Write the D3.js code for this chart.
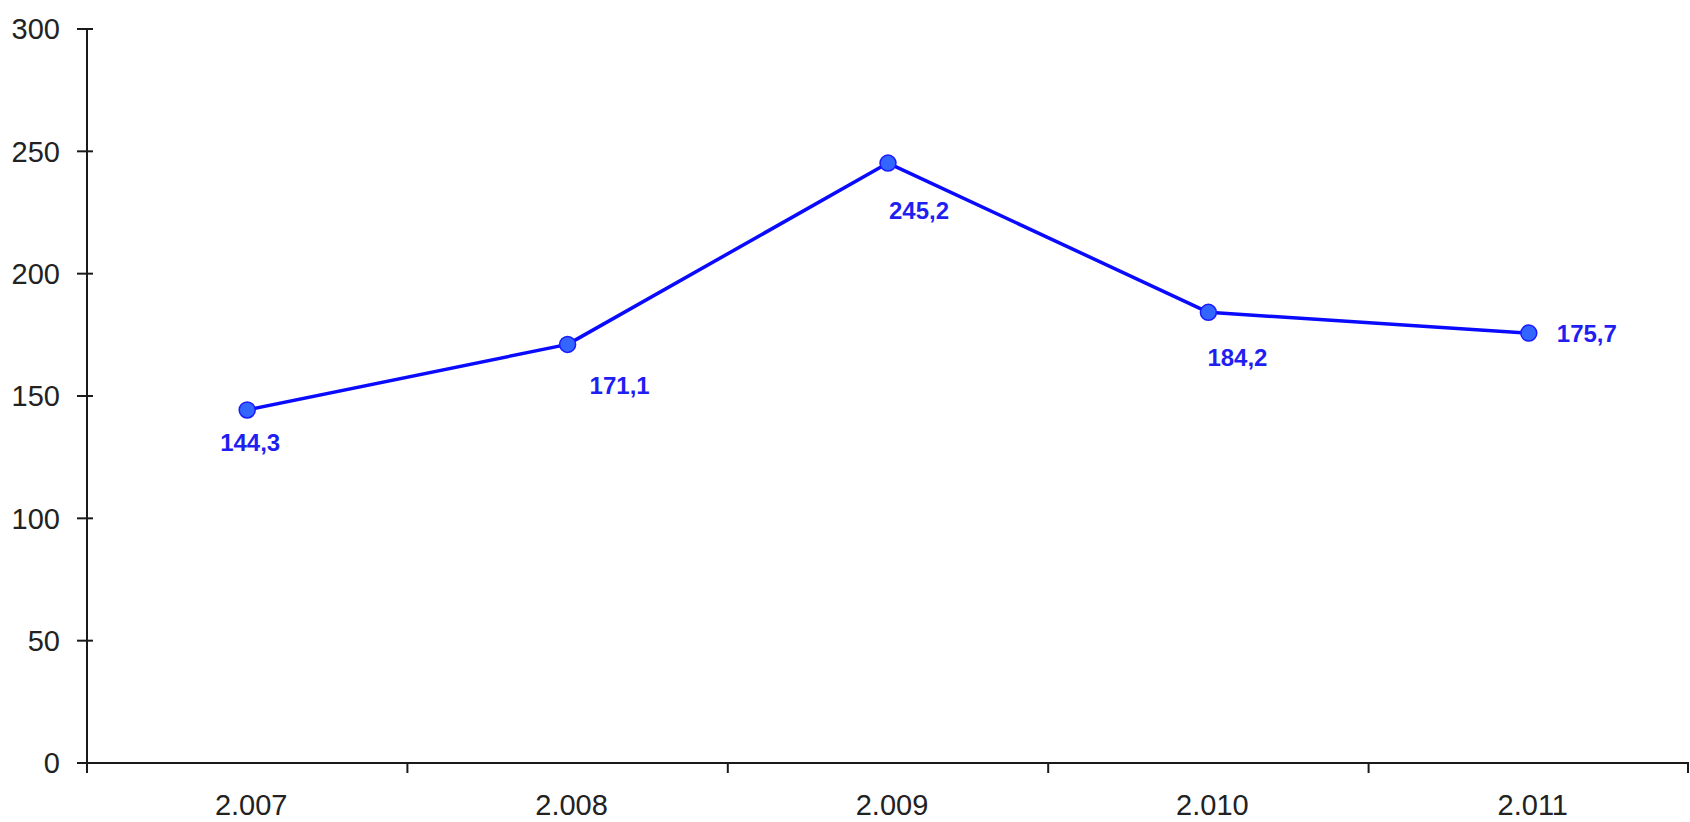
<!DOCTYPE html>
<html>
<head>
<meta charset="utf-8">
<script src="https://cdn.jsdelivr.net/npm/d3@7"></script>
<style>
  html, body { margin: 0; padding: 0; background: #ffffff; }
  svg { display: block; }
</style>
</head>
<body>
<svg id="chart" width="1690" height="822"></svg>
<script>
// Yearly series
const years = ["2.007", "2.008", "2.009", "2.010", "2.011"];
const values = [144.3, 171.1, 245.2, 184.2, 175.7];
const yTicks = [0, 50, 100, 150, 200, 250, 300];

// Value label placement around each marker: [dx, dy, anchor]
const labelPlacement = [
  [3, 32, "middle"],
  [22, 41, "start"],
  [1, 47, "start"],
  [-1, 45, "start"],
  [28, 0, "start"]
];

const svg = d3.select("#chart");
const plotLeft = 87, plotRight = 1689, plotTop = 29, plotBottom = 763;

const x = d3.scaleBand().domain(years).range([plotLeft, plotRight]).paddingInner(0).paddingOuter(0);
const y = d3.scaleLinear().domain([0, 300]).range([plotBottom, plotTop]);

const axisColor = "#1a1a1a";
const fmt = v => d3.format(".1f")(v).replace(".", ",");

// Y axis: vertical line plus ticks crossing it
const yAxis = svg.append("g");
yAxis.append("line")
  .attr("x1", plotLeft).attr("x2", plotLeft)
  .attr("y1", y(300)).attr("y2", plotBottom + 10)
  .attr("stroke", axisColor).attr("stroke-width", 2);
yAxis.selectAll("line.tick").data(yTicks).join("line")
  .attr("class", "tick")
  .attr("x1", plotLeft - 10).attr("x2", plotLeft + 6)
  .attr("y1", d => y(d)).attr("y2", d => y(d))
  .attr("stroke", axisColor).attr("stroke-width", 2);
yAxis.selectAll("text").data(yTicks).join("text")
  .attr("x", 60)
  .attr("y", d => y(d))
  .attr("dy", "0.36em")
  .attr("text-anchor", "end")
  .attr("font-family", "Liberation Sans, Arial, sans-serif")
  .attr("font-size", 29)
  .attr("fill", "#222")
  .text(d => d);

// X axis: horizontal line with ticks at category boundaries
const xAxis = svg.append("g");
xAxis.append("line")
  .attr("x1", plotLeft - 10).attr("x2", plotRight)
  .attr("y1", plotBottom).attr("y2", plotBottom)
  .attr("stroke", axisColor).attr("stroke-width", 2);
const boundaries = years.map(d => x(d)).concat([x(years[years.length - 1]) + x.bandwidth()]);
xAxis.selectAll("line.tick").data(boundaries).join("line")
  .attr("class", "tick")
  .attr("x1", d => Math.min(d, plotRight - 1)).attr("x2", d => Math.min(d, plotRight - 1))
  .attr("y1", plotBottom).attr("y2", plotBottom + 10)
  .attr("stroke", axisColor).attr("stroke-width", 2);
xAxis.selectAll("text").data(years).join("text")
  .attr("x", d => x(d) + x.bandwidth() / 2 + 4)
  .attr("y", 815)
  .attr("text-anchor", "middle")
  .attr("font-family", "Liberation Sans, Arial, sans-serif")
  .attr("font-size", 29)
  .attr("fill", "#222")
  .text(d => d);

// Series line
const pts = years.map((d, i) => [x(d) + x.bandwidth() / 2, y(values[i])]);
svg.append("path")
  .attr("d", d3.line()(pts))
  .attr("fill", "none")
  .attr("stroke", "#0a0aff")
  .attr("stroke-width", 3.5)
  .attr("stroke-linejoin", "round");

// Markers
svg.selectAll("circle.pt").data(pts).join("circle")
  .attr("class", "pt")
  .attr("cx", d => d[0]).attr("cy", d => d[1])
  .attr("r", 8)
  .attr("fill", "#3366ff")
  .attr("stroke", "#1a1aff")
  .attr("stroke-width", 1.5);

// Value labels
svg.selectAll("text.val").data(values).join("text")
  .attr("class", "val")
  .attr("x", (d, i) => pts[i][0] + labelPlacement[i][0])
  .attr("y", (d, i) => pts[i][1] + labelPlacement[i][1])
  .attr("dy", "0.36em")
  .attr("text-anchor", (d, i) => labelPlacement[i][2])
  .attr("font-family", "Liberation Sans, Arial, sans-serif")
  .attr("font-weight", "bold")
  .attr("font-size", 24)
  .attr("fill", "#1f1ff2")
  .text(d => fmt(d));
</script>
</body>
</html>
